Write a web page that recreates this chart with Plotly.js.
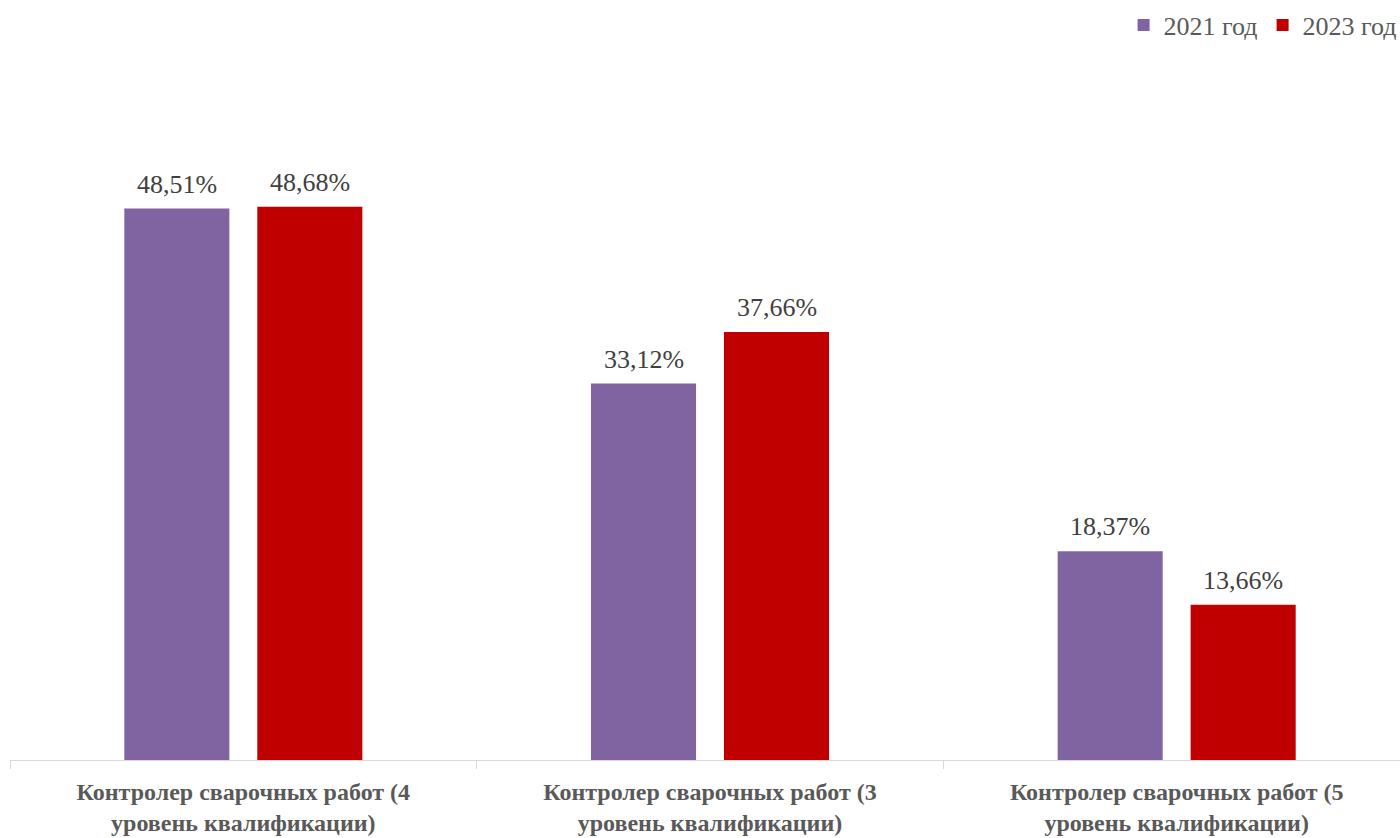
<!DOCTYPE html>
<html>
<head>
<meta charset="utf-8">
<script src="https://cdn.plot.ly/plotly-3.0.1.min.js"></script>
<style>
html,body{margin:0;padding:0;overflow:hidden;background:#fff;}
#chart{width:1410px;height:838px;}
</style>
</head>
<body>
<div id="chart"></div>
<script>
const categories = [
  "Контролер сварочных работ (4<br>уровень квалификации)",
  "Контролер сварочных работ (3<br>уровень квалификации)",
  "Контролер сварочных работ (5<br>уровень квалификации)"
];
const seriesNames = ["2021 год", "2023 год"];
const values2021 = [48.51, 33.12, 18.37];
const values2023 = [48.68, 37.66, 13.66];
const colors = ["#8064A2", "#C00000"];

function fmt(v){ return v.toFixed(2).replace(".", ",") + "%"; }

const serif = "'Liberation Serif', 'Times New Roman', serif";

const W = 1410, H = 838;
const margin = {l: 10, r: 0, t: 78, b: 78};
const bargap = 0.43, bargroupgap = 0.21;

const allSeries = [values2021, values2023];

const traces = allSeries.map((vals, i) => ({
  type: "bar",
  name: seriesNames[i],
  x: categories,
  y: vals,
  marker: {color: colors[i]},
  hoverinfo: "skip"
}));

// label offsets derived from the bar layout parameters
const catW = (W - margin.l - margin.r) / categories.length;
const slot = catW * (1 - bargap) / allSeries.length;
const annotations = [];
allSeries.forEach((vals, i) => {
  const xshift = (i - (allSeries.length - 1) / 2) * slot;
  vals.forEach((v, j) => {
    annotations.push({
      x: categories[j], y: v, xref: "x", yref: "y",
      text: fmt(v), showarrow: false,
      yanchor: "bottom", xanchor: "center",
      xshift: xshift, yshift: 8,
      font: {family: serif, size: 26, color: "#404040"}
    });
  });
});

const layout = {
  width: W,
  height: H,
  margin: margin,
  paper_bgcolor: "#ffffff",
  plot_bgcolor: "#ffffff",
  barmode: "group",
  bargap: bargap,
  bargroupgap: bargroupgap,
  showlegend: true,
  annotations: annotations,
  legend: {
    orientation: "h",
    x: 0.994, xanchor: "right",
    y: 0.998, yanchor: "top",
    yref: "container",
    font: {family: serif, size: 26, color: "#595959"},
    itemwidth: 30,
    traceorder: "normal"
  },
  xaxis: {
    type: "category",
    showline: true,
    linecolor: "#d9d9d9",
    linewidth: 1,
    ticks: "outside",
    tickson: "boundaries",
    ticklen: 8,
    tickcolor: "#d9d9d9",
    tickfont: {family: serif, size: 24, color: "#595959", weight: "bold"},
    ticklabelstandoff: 10,
    showgrid: false,
    zeroline: false,
    fixedrange: true
  },
  yaxis: {
    range: [0, 60],
    visible: false,
    showgrid: false,
    zeroline: false,
    fixedrange: true
  }
};

Plotly.newPlot("chart", traces, layout, {displayModeBar: false, staticPlot: true});
</script>
</body>
</html>
